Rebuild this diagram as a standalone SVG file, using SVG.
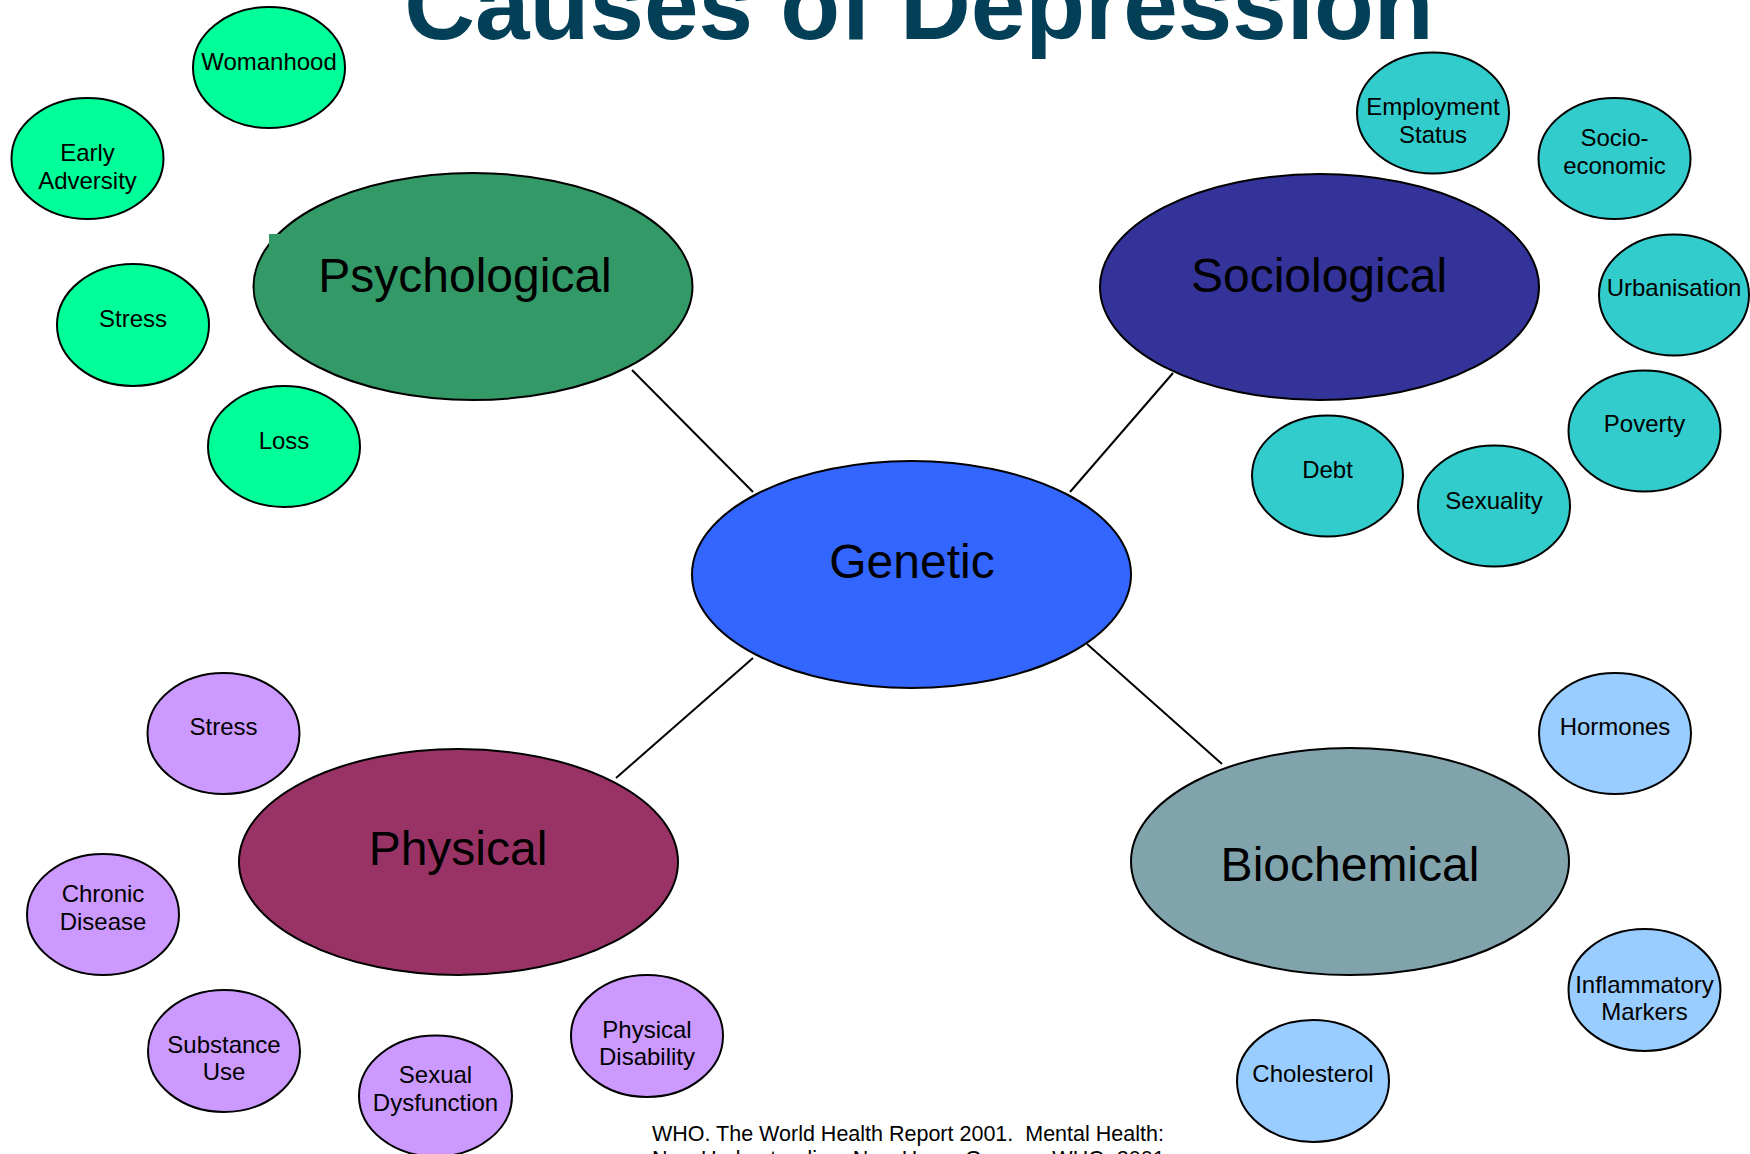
<svg xmlns="http://www.w3.org/2000/svg" width="1750" height="1154" viewBox="0 0 1750 1154">
<style>
  .n { stroke: #000; stroke-width: 2; }
  .big { font-family: "Liberation Sans", Arial, sans-serif; font-size: 48px; fill: #000; text-anchor: middle; }
  .sm { font-family: "Liberation Sans", Arial, sans-serif; font-size: 24px; fill: #000; text-anchor: middle; }
  .cite { font-family: "Liberation Sans", Arial, sans-serif; font-size: 21.5px; fill: #000; }
  .psyS { fill: #00FF99; }
  .socS { fill: #33CCCC; }
  .phyS { fill: #CC99FF; }
  .bioS { fill: #99CCFF; }
  .conn line { stroke: #000; stroke-width: 2; }
</style>
<rect x="0" y="0" width="1750" height="1154" fill="#FFFFFF"/>
<g id="title">
  <text x="919" y="39" font-family="Liberation Sans, Arial, sans-serif" font-size="98" font-weight="bold" fill="#034058" text-anchor="middle">Causes of Depression</text>
</g>
<g id="connectors" class="conn">
  <line x1="632" y1="370" x2="753" y2="492"/>
  <line x1="1070" y1="492" x2="1173" y2="373"/>
  <line x1="753" y1="658" x2="616" y2="778"/>
  <line x1="1087" y1="644" x2="1222" y2="764"/>
</g>
<g id="psychological">
  <ellipse class="n" cx="473" cy="286.5" rx="219.5" ry="113.5" fill="#339966"/>
  <rect x="269" y="234" width="14" height="14" fill="#339966"/>
  <text class="big" x="465" y="292">Psychological</text>
</g>
<g id="sociological">
  <ellipse class="n" cx="1319.5" cy="287" rx="219.5" ry="113" fill="#333399"/>
  <text class="big" x="1319" y="292">Sociological</text>
</g>
<g id="genetic">
  <ellipse class="n" cx="911.5" cy="574.5" rx="219.5" ry="113.5" fill="#3366FF"/>
  <text class="big" x="912" y="578">Genetic</text>
</g>
<g id="physical">
  <ellipse class="n" cx="458.5" cy="862" rx="219.5" ry="113" fill="#993366"/>
  <text class="big" x="458" y="865">Physical</text>
</g>
<g id="biochemical">
  <ellipse class="n" cx="1350" cy="861.5" rx="219" ry="113.5" fill="#80A3AC"/>
  <text class="big" x="1350" y="881">Biochemical</text>
</g>
<g id="womanhood">
  <ellipse class="n psyS" cx="269" cy="67.5" rx="76" ry="60.5"/>
  <text class="sm" x="269" y="70">Womanhood</text>
</g>
<g id="early-adversity">
  <ellipse class="n psyS" cx="87.5" cy="158.5" rx="76" ry="60.5"/>
  <text class="sm" x="87.5" y="161">Early</text>
  <text class="sm" x="87.5" y="189">Adversity</text>
</g>
<g id="psy-stress">
  <ellipse class="n psyS" cx="133" cy="325" rx="76" ry="61"/>
  <text class="sm" x="133" y="327">Stress</text>
</g>
<g id="loss">
  <ellipse class="n psyS" cx="284" cy="446.5" rx="76" ry="60.5"/>
  <text class="sm" x="284" y="448.5">Loss</text>
</g>
<g id="employment-status">
  <ellipse class="n socS" cx="1433" cy="113" rx="76" ry="60.5"/>
  <text class="sm" x="1433" y="115">Employment</text>
  <text class="sm" x="1433" y="143">Status</text>
</g>
<g id="socio-economic">
  <ellipse class="n socS" cx="1614.5" cy="158.5" rx="76" ry="60.5"/>
  <text class="sm" x="1614.5" y="145.5">Socio-</text>
  <text class="sm" x="1614.5" y="174">economic</text>
</g>
<g id="urbanisation">
  <ellipse class="n socS" cx="1674" cy="295" rx="75" ry="60.5"/>
  <text class="sm" x="1674" y="296">Urbanisation</text>
</g>
<g id="poverty">
  <ellipse class="n socS" cx="1644.5" cy="431" rx="76" ry="60.5"/>
  <text class="sm" x="1644.5" y="432">Poverty</text>
</g>
<g id="sexuality">
  <ellipse class="n socS" cx="1494" cy="506" rx="76" ry="60.5"/>
  <text class="sm" x="1494" y="509">Sexuality</text>
</g>
<g id="debt">
  <ellipse class="n socS" cx="1327.5" cy="476" rx="75.5" ry="60.5"/>
  <text class="sm" x="1327.5" y="478">Debt</text>
</g>
<g id="phy-stress">
  <ellipse class="n phyS" cx="223.5" cy="733.5" rx="76" ry="60.5"/>
  <text class="sm" x="223.5" y="735">Stress</text>
</g>
<g id="chronic-disease">
  <ellipse class="n phyS" cx="103" cy="914.5" rx="76" ry="60.5"/>
  <text class="sm" x="103" y="902">Chronic</text>
  <text class="sm" x="103" y="930">Disease</text>
</g>
<g id="substance-use">
  <ellipse class="n phyS" cx="224" cy="1051" rx="76" ry="61"/>
  <text class="sm" x="224" y="1053">Substance</text>
  <text class="sm" x="224" y="1080">Use</text>
</g>
<g id="sexual-dysfunction">
  <ellipse class="n phyS" cx="435.5" cy="1096" rx="76.5" ry="60.5"/>
  <text class="sm" x="435.5" y="1083">Sexual</text>
  <text class="sm" x="435.5" y="1111">Dysfunction</text>
</g>
<g id="physical-disability">
  <ellipse class="n phyS" cx="647" cy="1036" rx="76" ry="61"/>
  <text class="sm" x="647" y="1038">Physical</text>
  <text class="sm" x="647" y="1065">Disability</text>
</g>
<g id="hormones">
  <ellipse class="n bioS" cx="1615" cy="733.5" rx="76" ry="60.5"/>
  <text class="sm" x="1615" y="735">Hormones</text>
</g>
<g id="inflammatory-markers">
  <ellipse class="n bioS" cx="1644.5" cy="990" rx="76" ry="61"/>
  <text class="sm" x="1644.5" y="993">Inflammatory</text>
  <text class="sm" x="1644.5" y="1020">Markers</text>
</g>
<g id="cholesterol">
  <ellipse class="n bioS" cx="1313" cy="1081" rx="76" ry="61"/>
  <text class="sm" x="1313" y="1082">Cholesterol</text>
</g>
<g id="citation">
  <text class="cite" x="652" y="1141">WHO. The World Health Report 2001.&#160; Mental Health:</text>
  <text class="cite" x="652" y="1166">New Understanding, New Hope. Geneva: WHO, 2001</text>
</g>
</svg>
